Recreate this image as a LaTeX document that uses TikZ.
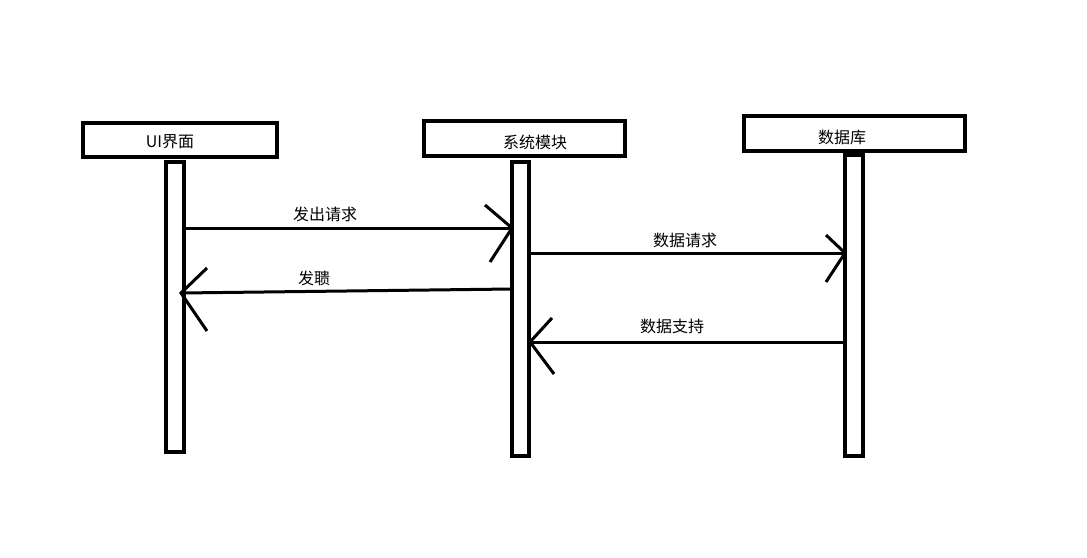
\documentclass[tikz,border=0pt]{standalone}
\usepackage{fontspec}
\setmainfont{Noto Sans CJK SC}
\begin{document}
\begin{tikzpicture}[x=1pt,y=-1pt,line width=3.5pt,
  box/.style={draw,rectangle,fill=white},
  lbl/.style={font=\fontsize{16}{18}\selectfont,inner sep=0pt},
  msg/.style={line width=3pt},
  hd/.style={line width=3pt}]
\useasboundingbox[fill=white] (0,0) rectangle (1087,557);
% lifelines
\draw (166,162) rectangle (184,452);
\draw (512,162) rectangle (529,456);
\draw (845,155) rectangle (863,456);
% headers
\node[box,minimum width=194pt,minimum height=34pt,inner sep=0pt] (ui) at (180,140) {};
\node[lbl] at (170,142) {UI界面};
\node[box,minimum width=201pt,minimum height=35pt,inner sep=0pt] (sys) at (524.5,138.5) {};
\node[lbl] at (535,142) {系统模块};
\node[box,minimum width=221pt,minimum height=35pt,inner sep=0pt] (db) at (854.5,133.5) {};
\node[lbl] at (842,137) {数据库};
% messages
\coordinate (a1) at (184,228); \coordinate (b1) at (512,228);
\draw[msg] (a1) -- (b1);
\draw[hd] (485,205) -- (b1) -- (490,262);
\node[lbl] at (325,214) {发出请求};
\coordinate (a2) at (529,253); \coordinate (b2) at (845,253);
\draw[msg] (a2) -- (b2);
\draw[hd] (826,235) -- (b2) -- (826,282);
\node[lbl] at (685,240) {数据请求};
\coordinate (a3) at (512,289); \coordinate (b3) at (181,293);
\draw[msg] (a3) -- (b3);
\draw[hd] (207,268) -- (b3) -- (207,331);
\node[lbl] at (314,278) {发聩};
\coordinate (a4) at (845,342); \coordinate (b4) at (530,342);
\draw[msg] (a4) -- (b4);
\draw[hd] (552,318) -- (b4) -- (554,374);
\node[lbl] at (672,326) {数据支持};
\end{tikzpicture}
\end{document}
